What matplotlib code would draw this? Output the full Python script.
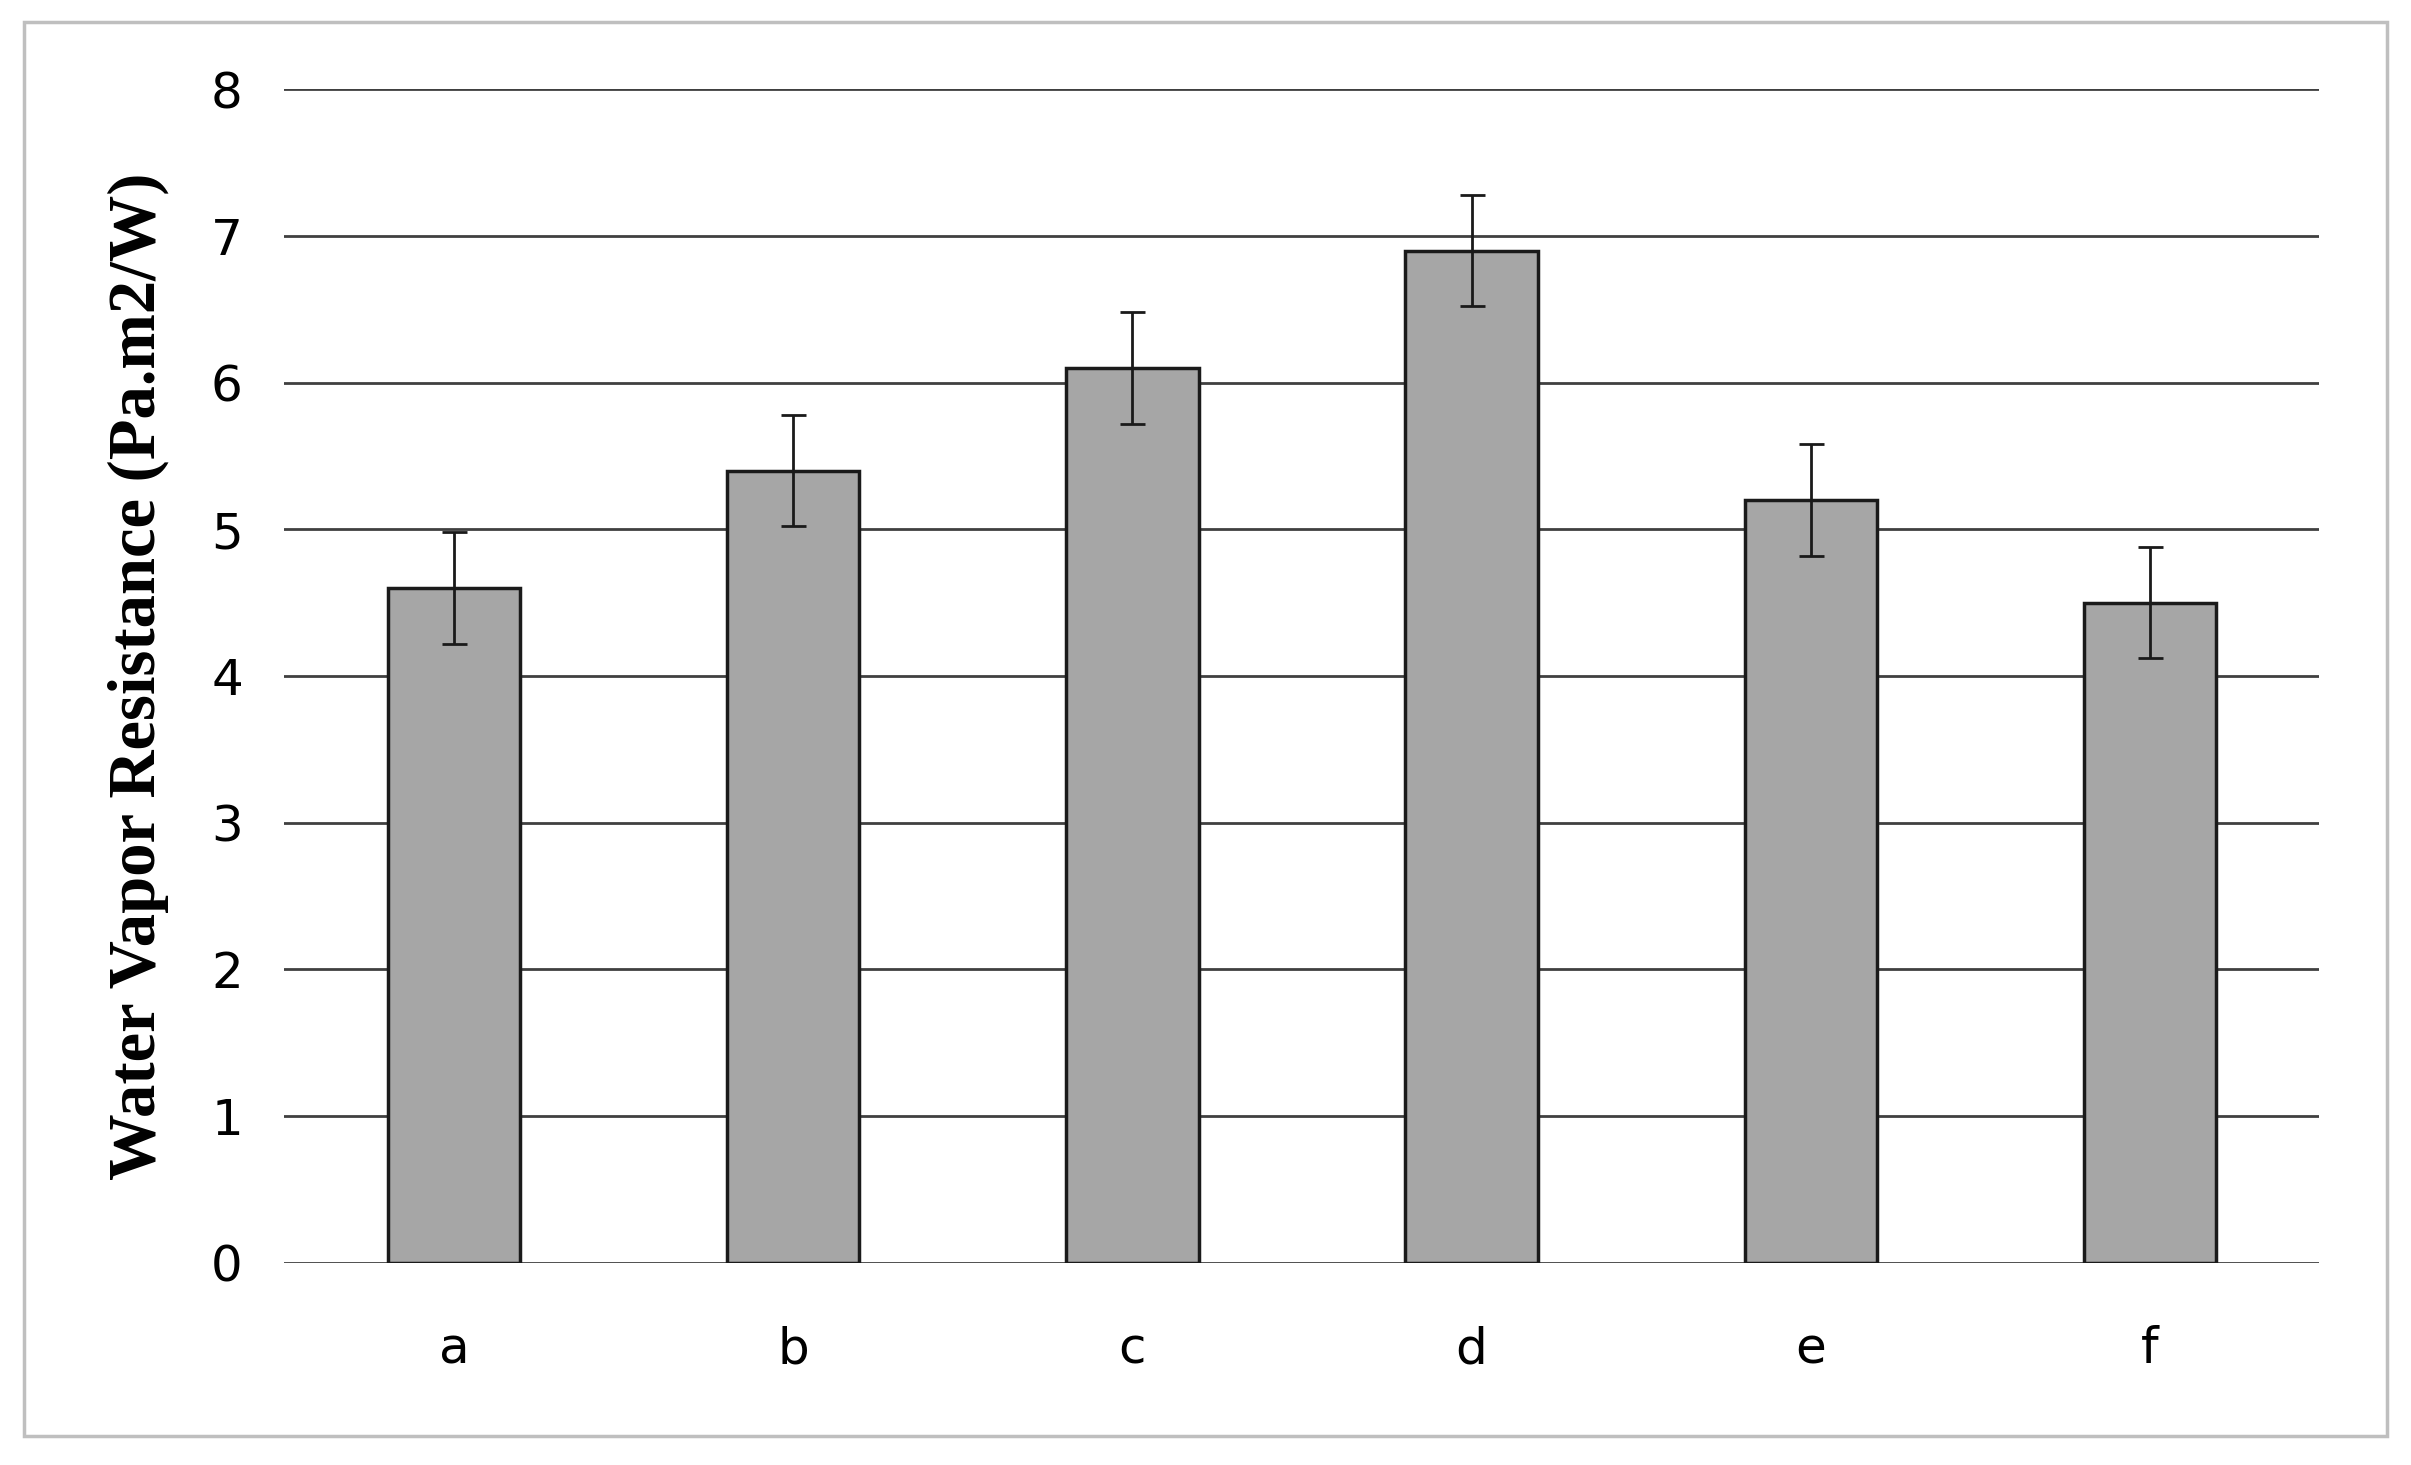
import matplotlib.pyplot as plt
from matplotlib.patches import Rectangle

categories = ["a", "b", "c", "d", "e", "f"]
values = [4.6, 5.4, 6.1, 6.9, 5.2, 4.5]
errors = [0.38, 0.38, 0.38, 0.38, 0.38, 0.38]

fig = plt.figure(figsize=(24.11, 14.65), dpi=100)
fig.patches.append(Rectangle((0.01, 0.02), 0.98, 0.965, transform=fig.transFigure,
                             fill=False, edgecolor="#bfbfbf", linewidth=2.5))
ax = fig.add_axes([0.118, 0.138, 0.844, 0.801])

x = range(len(categories))
ax.bar(x, values, width=0.39, color="#a6a6a6", edgecolor="#1a1a1a", linewidth=2.5, zorder=3)
ax.errorbar(x, values, yerr=errors, fmt="none", ecolor="#1a1a1a", elinewidth=2,
            capsize=9, capthick=2, zorder=4)

ax.set_xlim(-0.5, 5.5)
ax.set_ylim(0, 8)
ax.set_yticks(range(0, 9))
ax.set_xticks(list(x))
ax.set_xticklabels(categories)
ax.grid(axis="y", color="#404040", linewidth=2, zorder=0)
for s in ax.spines.values():
    s.set_visible(False)
ax.tick_params(length=0, labelsize=36, pad=30)
ax.tick_params(axis="x", pad=45)
ax.set_ylabel("Water Vapor Resistance (Pa.m2/W)", fontsize=48, fontweight="bold",
              family="Liberation Serif", labelpad=30)

fig.savefig("out.png", dpi=100)
